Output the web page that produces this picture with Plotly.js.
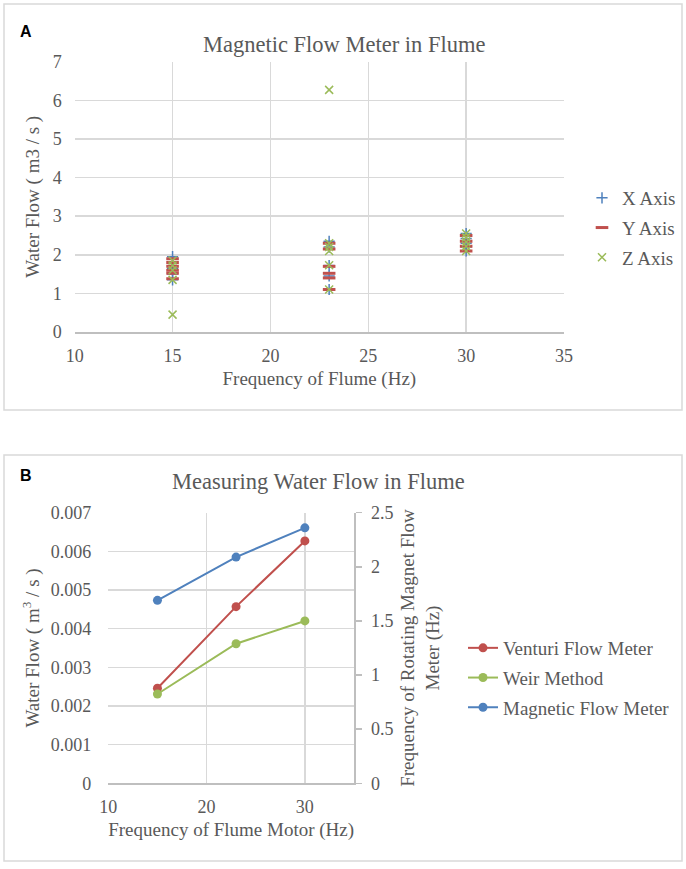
<!DOCTYPE html>
<html>
<head>
<meta charset="utf-8">
<script src="https://cdn.plot.ly/plotly-3.0.1.min.js"></script>
<style>
  html, body { margin: 0; padding: 0; background: #fff; }
  #chart { width: 686px; height: 869px; }
</style>
</head>
<body>
<div id="chart"></div>
<script>
// Panel A: magnetic flow meter readings per axis
const xAxisFreq = [15, 15, 15, 15, 15, 23, 23, 23, 23, 23, 30, 30, 30, 30, 30];
const xAxisFlow = [1.95, 1.8, 1.65, 1.5, 1.35, 2.35, 2.2, 1.72, 1.45, 1.1, 2.55, 2.42, 2.3, 2.2, 2.1];
const yAxisFreq = [15, 15, 15, 15, 15, 15, 23, 23, 23, 23, 23, 23, 30, 30, 30, 30];
const yAxisFlow = [1.9, 1.8, 1.7, 1.6, 1.52, 1.38, 2.3, 2.15, 1.7, 1.52, 1.4, 1.1, 2.5, 2.35, 2.22, 2.1];
const zAxisFreq = [15, 15, 15, 15, 15, 23, 23, 23, 23, 23, 23, 30, 30, 30, 30, 30];
const zAxisFlow = [1.85, 1.72, 1.6, 1.35, 0.45, 6.27, 2.3, 2.2, 2.1, 1.73, 1.1, 2.55, 2.45, 2.33, 2.22, 2.1];

// Panel B: comparison of methods
const motorFreq = [15, 23, 30];
const venturiFlow = [0.00246, 0.00457, 0.00627];
const weirFlow = [0.00231, 0.00361, 0.0042];
const magnetFreq = [1.69, 2.09, 2.36];

const W = 686, H = 869;
const px = v => v / W;
const py = v => 1 - v / H;

const serif = "'Liberation Serif', 'Times New Roman', serif";
const grey = "#595959";
const gridCol = "#d9d9d9";

var data = [
  {
    type: "scatter", mode: "markers", name: "X Axis",
    x: xAxisFreq, y: xAxisFlow, xaxis: "x", yaxis: "y",
    legendgroup: "a1",
    marker: {symbol: "cross-thin-open", size: 8, line: {color: "#4f81bd", width: 1.5}, color: "#4f81bd"}
  },
  {
    type: "scatter", mode: "markers", name: "Y Axis",
    x: yAxisFreq, y: yAxisFlow, xaxis: "x", yaxis: "y",
    legendgroup: "a2",
    marker: {symbol: "line-ew-open", size: 9, line: {color: "#c0504d", width: 3}, color: "#c0504d"}
  },
  {
    type: "scatter", mode: "markers", name: "Z Axis",
    x: zAxisFreq, y: zAxisFlow, xaxis: "x", yaxis: "y",
    legendgroup: "a3",
    marker: {symbol: "x-thin-open", size: 8, line: {color: "#9bbb59", width: 1.5}, color: "#9bbb59"}
  },
  {
    type: "scatter", mode: "lines+markers", name: "Venturi Flow Meter",
    x: motorFreq, y: venturiFlow, xaxis: "x2", yaxis: "y2",
    legend: "legend2", legendgroup: "b1",
    line: {color: "#c0504d", width: 2}, marker: {color: "#c0504d", size: 9}
  },
  {
    type: "scatter", mode: "lines+markers", name: "Weir Method",
    x: motorFreq, y: weirFlow, xaxis: "x2", yaxis: "y2",
    legend: "legend2", legendgroup: "b2",
    line: {color: "#9bbb59", width: 2}, marker: {color: "#9bbb59", size: 9}
  },
  {
    type: "scatter", mode: "lines+markers", name: "Magnetic Flow Meter",
    x: motorFreq, y: magnetFreq, xaxis: "x2", yaxis: "y3",
    legend: "legend2", legendgroup: "b3",
    line: {color: "#4f81bd", width: 2}, marker: {color: "#4f81bd", size: 9}
  }
];

const tickFont = {family: serif, size: 18, color: grey};
const titleFont = {family: serif, size: 19, color: grey};

var layout = {
  width: W, height: H,
  margin: {t: 0, b: 0, l: 0, r: 0},
  paper_bgcolor: "#fff", plot_bgcolor: "#fff",
  font: {family: serif, color: grey},
  xaxis: {
    domain: [px(74.7), px(564)], anchor: "y",
    range: [10, 35], dtick: 5, tick0: 10,
    showgrid: true, gridcolor: gridCol, gridwidth: 1.5,
    showline: true, linecolor: "#bfbfbf", linewidth: 1.5,
    zeroline: false, ticks: "", ticklabelstandoff: 7,
    tickfont: tickFont,
    title: {text: "Frequency of Flume (Hz)", font: titleFont, standoff: 6}
  },
  yaxis: {
    domain: [py(332), py(61.7)], anchor: "x",
    range: [0, 7], dtick: 1,
    showgrid: true, gridcolor: gridCol, gridwidth: 1.5,
    zeroline: false, ticks: "", ticklabelstandoff: 12,
    tickfont: tickFont,
    title: {text: "Water Flow ( m3 / s )", font: titleFont, standoff: 8}
  },
  xaxis2: {
    domain: [px(108.3), px(354)], anchor: "y2",
    range: [10, 35], dtick: 10, tick0: 10,
    showgrid: true, gridcolor: gridCol, gridwidth: 1.5,
    showline: true, linecolor: "#bfbfbf", linewidth: 1.5,
    zeroline: false, ticks: "", ticklabelstandoff: 7,
    tickfont: tickFont,
    title: {text: "Frequency of Flume Motor (Hz)", font: titleFont, standoff: 6}
  },
  yaxis2: {
    domain: [py(783.3), py(512.7)], anchor: "x2",
    range: [0, 0.007], dtick: 0.001, tickformat: ".3~f",
    showgrid: true, gridcolor: gridCol, gridwidth: 1.5,
    zeroline: false, ticks: "", ticklabelstandoff: 16,
    tickfont: tickFont,
    title: {text: "Water Flow ( m<sup>3</sup> / s )", font: titleFont, standoff: 6}
  },
  yaxis3: {
    overlaying: "y2", side: "right", anchor: "x2",
    range: [0, 2.5], dtick: 0.5,
    showgrid: false, zeroline: false,
    showline: true, linecolor: "#bfbfbf", linewidth: 1.5,
    ticks: "outside", ticklen: 6, tickcolor: "#bfbfbf", tickwidth: 1.5,
    ticklabelstandoff: 6,
    tickfont: tickFont,
    title: {text: "Frequency of Rotating Magnet Flow<br>Meter (Hz)", font: titleFont, standoff: 8}
  },
  legend: {
    x: px(582), y: py(179), xanchor: "left", yanchor: "top",
    font: {family: serif, size: 19, color: grey},
    bgcolor: "rgba(0,0,0,0)", traceorder: "grouped", tracegroupgap: 2
  },
  legend2: {
    x: px(463), y: py(629), xanchor: "left", yanchor: "top",
    font: {family: serif, size: 19, color: grey},
    bgcolor: "rgba(0,0,0,0)", traceorder: "grouped", tracegroupgap: 2
  },
  shapes: [
    {type: "rect", xref: "paper", yref: "paper", x0: px(4), x1: px(682), y0: py(410), y1: py(4),
     line: {color: "#d9d9d9", width: 1.5}},
    {type: "rect", xref: "paper", yref: "paper", x0: px(4), x1: px(682), y0: py(861), y1: py(455),
     line: {color: "#d9d9d9", width: 1.5}}
  ],
  annotations: [
    {text: "<b>A</b>", xref: "paper", yref: "paper", x: px(18), y: py(21), showarrow: false,
     font: {family: "'Liberation Sans', Arial, sans-serif", size: 16, color: "#000"}},
    {text: "<b>B</b>", xref: "paper", yref: "paper", x: px(18), y: py(476), showarrow: false,
     font: {family: "'Liberation Sans', Arial, sans-serif", size: 16, color: "#000"}},
    {text: "Magnetic Flow Meter in Flume", xref: "paper", yref: "paper", x: px(344), y: py(30),
     showarrow: false, font: {family: serif, size: 22.5, color: grey}},
    {text: "Measuring Water Flow in Flume", xref: "paper", yref: "paper", x: px(318), y: py(481),
     showarrow: false, font: {family: serif, size: 22.5, color: grey}}
  ],
  showlegend: true
};

var config = {staticPlot: true, displayModeBar: false};

Plotly.newPlot("chart", data, layout, config);
</script>
</body>
</html>
